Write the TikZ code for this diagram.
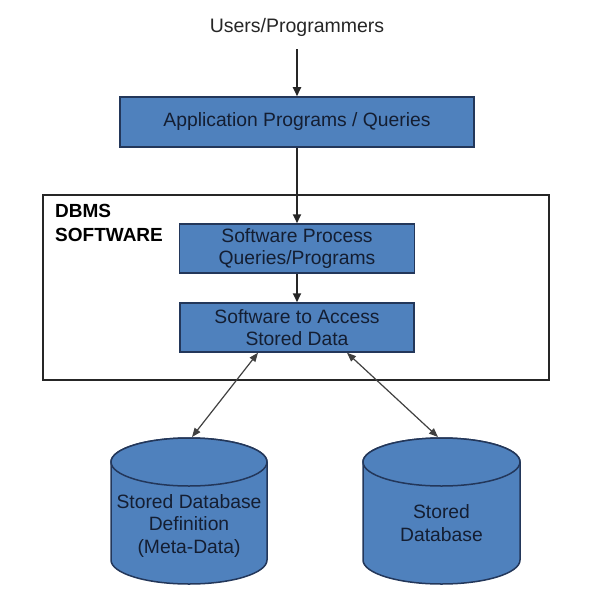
\documentclass[tikz,border=0pt]{standalone}
\usepackage{fontspec}
\setmainfont{Liberation Sans}
\usetikzlibrary{arrows.meta}
\definecolor{boxblue}{RGB}{79,129,189}
\definecolor{boxedge}{RGB}{35,55,90}
\definecolor{txt}{RGB}{20,30,50}
\begin{document}
\begin{tikzpicture}[x=1pt,y=-1pt,
  lbl/.style={inner sep=0pt, text=black!85, font=\fontsize{19.5}{22}\selectfont},
  box/.style={draw=boxedge, line width=1.5pt, fill=boxblue, text=txt, align=center, inner sep=0pt, font=\fontsize{19.3}{22}\selectfont},
  arr/.style={draw=black!85, line width=2pt, -{Triangle[length=9pt,width=8pt]}},
  darr/.style={draw=black!75, line width=1.2pt, {Triangle[length=9pt,width=7pt]}-{Triangle[length=9pt,width=7pt]}},
  cylfill/.style={draw=boxedge, line width=1.5pt, fill=boxblue},
  cyltext/.style={inner sep=0pt, text=txt, align=center, font=\fontsize{19.3}{22.5}\selectfont}]
\useasboundingbox (0,0) rectangle (595,615);

% top label
\node[lbl, anchor=base] (users) at (297,33) {Users/Programmers};

% application box
\node[box, minimum width=354pt, minimum height=50pt] (app) at (297,122) {Application Programs / Queries};

% DBMS frame
\node[draw=black!85, line width=2pt, minimum width=506pt, minimum height=185pt, inner sep=0pt] (dbms) at (296,287.5) {};
\node[anchor=base west, align=left, inner sep=0pt, font=\fontsize{19}{24}\selectfont\bfseries] (dbmslbl) at (55,241) {DBMS\\SOFTWARE};

% inner boxes
\node[box, minimum width=235pt, minimum height=49pt] (proc) at (297,248.5) {Software Process\\Queries/Programs};
\node[box, minimum width=234pt, minimum height=49pt] (access) at (297,327.5) {Software to Access\\Stored Data};

% cylinders
\path[cylfill] (111,462) -- (111,560) arc[start angle=180, end angle=0, x radius=78, y radius=24]
  -- (267,462) arc[start angle=0, end angle=-180, x radius=78, y radius=24] -- cycle;
\draw[cylfill] (189,462) ellipse[x radius=78, y radius=24];
\path[cylfill] (363,462) -- (363,560) arc[start angle=180, end angle=0, x radius=78.5, y radius=24]
  -- (520,462) arc[start angle=0, end angle=-180, x radius=78.5, y radius=24] -- cycle;
\draw[cylfill] (441.5,462) ellipse[x radius=78.5, y radius=24];

\node[cyltext, anchor=base] (cyl1) at (189,553) {Stored Database\\Definition\\(Meta-Data)};
\node[cyltext, anchor=base] (cyl2) at (441.5,541) {Stored\\Database};
\coordinate (c1top) at (192,437);
\coordinate (c2top) at (438,437);

% connectors
\draw[arr, shorten <=12pt] (users) -- (app);
\draw[arr] (app.south) -- (app.south |- proc.north);
\draw[arr] (proc.south) -- (proc.south |- access.north);
\draw[darr] ([xshift=-39pt]access.south) -- (c1top);
\draw[darr] ([xshift=50pt]access.south) -- (c2top);
\end{tikzpicture}
\end{document}
